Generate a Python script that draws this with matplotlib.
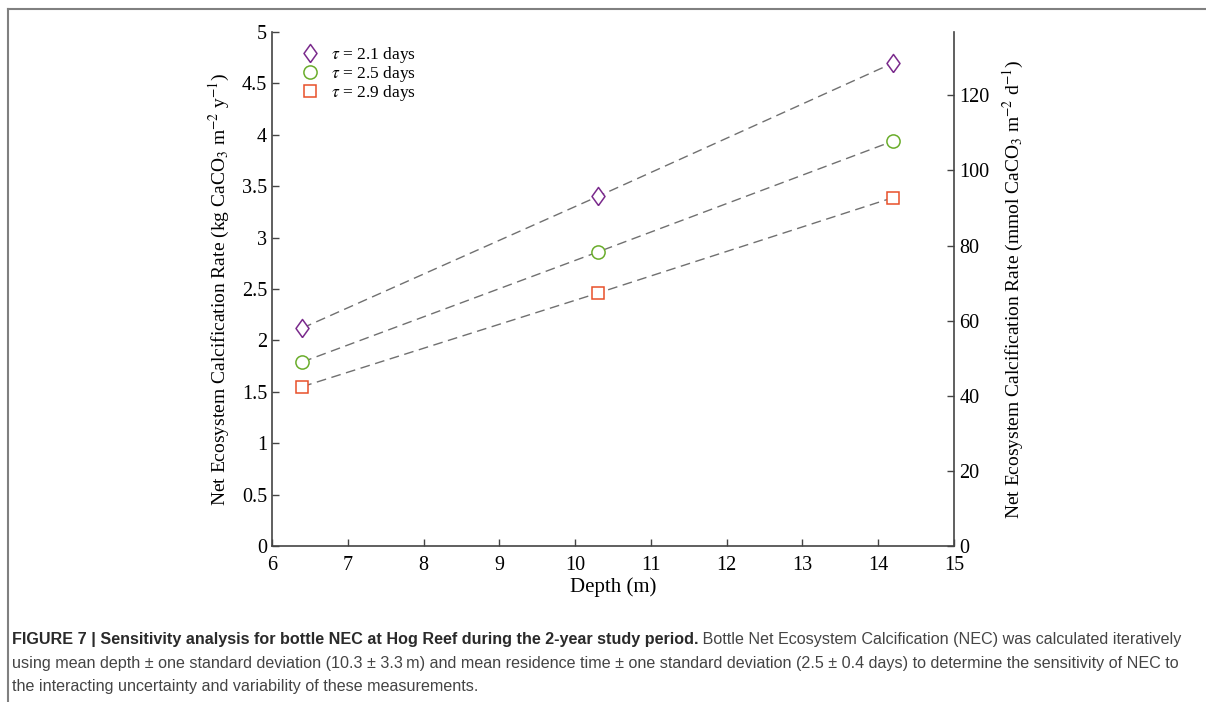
import matplotlib
matplotlib.use('Agg')
import matplotlib.pyplot as plt
from matplotlib.lines import Line2D

plt.rcParams['font.family'] = 'Liberation Serif'
plt.rcParams['mathtext.fontset'] = 'stix'

depth = [6.4, 10.3, 14.2]
nec_21 = [2.12, 3.40, 4.70]
nec_25 = [1.79, 2.86, 3.94]
nec_29 = [1.55, 2.46, 3.39]
labels = [r'$\tau$ = 2.1 days', r'$\tau$ = 2.5 days', r'$\tau$ = 2.9 days']
kg_to_mmol = 27.37  # kg CaCO3 m-2 y-1 -> mmol CaCO3 m-2 d-1

diamond = [(0, -1), (0.72, 0), (0, 1), (-0.72, 0), (0, -1)]

fig = plt.figure(figsize=(12.06, 7.02), dpi=100)
ax = fig.add_axes([0.2255, 0.2222, 0.5655, 0.7322])

series = [(nec_21, diamond, '#7a2a8c', 13), (nec_25, 'o', '#6aad2b', 9.5), (nec_29, 's', '#e8502a', 8.5)]
for (vals, mk, col, ms), lab in zip(series, labels):
    ax.plot(depth, vals, ls=(0, (7, 4)), color='#707070', lw=1, zorder=1)
    ax.plot(depth, vals, ls='none', marker=mk, ms=ms, mfc='white', mec=col, mew=1.1, label=lab, zorder=2)

ax.set_xlim(6, 15)
ax.set_ylim(0, 5)
ax.set_xticks(range(6, 16))
ax.set_yticks([0, 0.5, 1, 1.5, 2, 2.5, 3, 3.5, 4, 4.5, 5])
ax.set_yticklabels(['0', '0.5', '1', '1.5', '2', '2.5', '3', '3.5', '4', '4.5', '5'])
ax.tick_params(direction='in', length=5, labelsize=14.5, color='#444444', width=1)
ax.tick_params(axis='x', pad=7)
ax.spines['top'].set_visible(False)
ax.spines['right'].set_visible(False)
for s in ['left', 'bottom']:
    ax.spines[s].set_color('#444444')
    ax.spines[s].set_linewidth(1.2)
ax.set_xlabel('Depth (m)', fontsize=15, labelpad=2)
ax.set_ylabel(r'Net Ecosystem Calcification Rate (kg CaCO$_3$ m$^{-2}$ y$^{-1}$)', fontsize=14, labelpad=7)

ax2 = ax.twinx()
ax2.set_ylim(0, 5 * kg_to_mmol)
ax2.set_yticks([0, 20, 40, 60, 80, 100, 120])
ax2.tick_params(direction='in', length=5, labelsize=14.5, color='#444444', width=1, pad=4)
for s in ['top', 'left', 'bottom']:
    ax2.spines[s].set_visible(False)
ax2.spines['right'].set_color('#444444')
ax2.spines['right'].set_linewidth(1.2)
ax2.set_ylabel(r'Net Ecosystem Calcification Rate (mmol CaCO$_3$ m$^{-2}$ d$^{-1}$)', fontsize=14, labelpad=8)

ax.legend(loc='upper left', bbox_to_anchor=(0.025, 0.998), frameon=False, fontsize=12.5,
          handlelength=1.0, handletextpad=0.7, labelspacing=-0.05, borderaxespad=0.3)

# frame around the figure panel
fig.add_artist(Line2D([8 / 1206, 1], [1 - 9 / 702, 1 - 9 / 702], color='#808080', lw=1.5))
fig.add_artist(Line2D([8 / 1206, 8 / 1206], [0, 1 - 9 / 702], color='#808080', lw=1.5))

cap = dict(family='Liberation Sans', fontsize=11.6)
t1 = fig.text(12 / 1206, 1 - 647 / 702,
              'FIGURE 7 | Sensitivity analysis for bottle NEC at Hog Reef during the 2-year study period.',
              fontweight='bold', va='bottom', color='#2a2a2a', **cap)
ann = fig.text(0, 0, ' Bottle Net Ecosystem Calcification (NEC) was calculated iteratively',
               va='bottom', color='#444444', **cap)
fig.canvas.draw()
bb = t1.get_window_extent()
ann.set_position((bb.x1 / fig.bbox.width, bb.y0 / fig.bbox.height))
fig.text(12 / 1206, 1 - 671 / 702,
         'using mean depth \u00b1 one standard deviation (10.3 \u00b1 3.3\u2009m) and mean residence time \u00b1 one standard deviation (2.5 \u00b1 0.4 days) to determine the sensitivity of NEC to',
         va='bottom', color='#444444', **cap)
fig.text(12 / 1206, 1 - 694 / 702,
         'the interacting uncertainty and variability of these measurements.', va='bottom', color='#444444', **cap)

fig.savefig('out.png', dpi=100)
